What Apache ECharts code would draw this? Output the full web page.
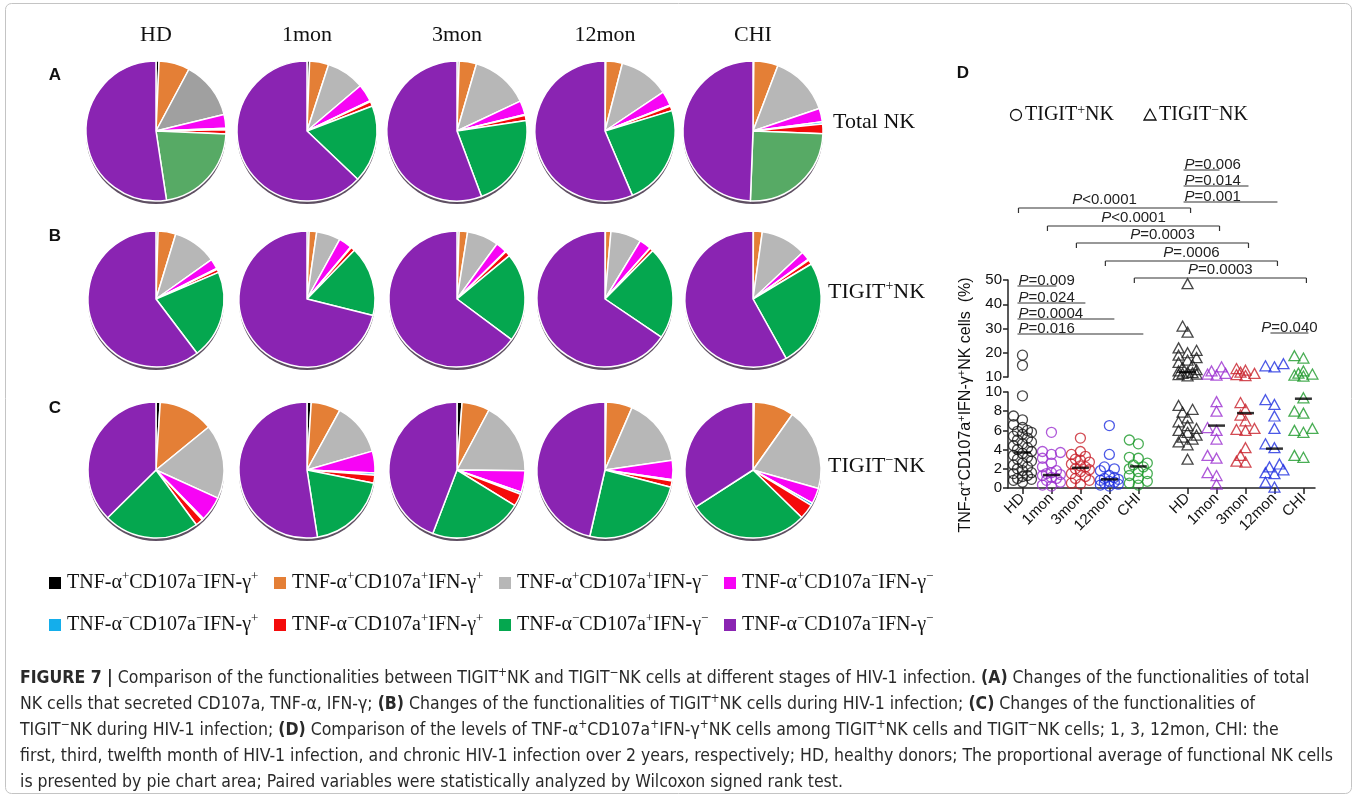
<!DOCTYPE html>
<html>
<head>
<meta charset="utf-8">
<script src="https://cdn.jsdelivr.net/npm/echarts@6/dist/echarts.min.js"></script>
<style>
html, body { margin: 0; padding: 0; background: #fff; }
#main { width: 1358px; height: 798px; }
</style>
</head>
<body>
<div id="main"></div>
<script>
// ---- data ----
var stages = ['HD', '1mon', '3mon', '12mon', 'CHI'];
var subsets = ['Total NK', 'TIGIT^+NK', 'TIGIT^-NK'];
var categories = [
    'TNF-α^+CD107a^-IFN-γ^+', 'TNF-α^+CD107a^+IFN-γ^+', 'TNF-α^+CD107a^+IFN-γ^-', 'TNF-α^+CD107a^-IFN-γ^-',
    'TNF-α^-CD107a^-IFN-γ^+', 'TNF-α^-CD107a^+IFN-γ^+', 'TNF-α^-CD107a^+IFN-γ^-', 'TNF-α^-CD107a^-IFN-γ^-'
];

// pie proportions (%), one row per stage, in category order
var totalNK = [
    [0.7, 7.1, 13.4, 3.2, 0.3, 1.0, 21.9, 52.4],
    [0.6, 4.4, 8.8, 4.1, 0.2, 1.1, 17.9, 62.9],
    [0.5, 4.0, 13.5, 3.2, 0.2, 1.2, 21.7, 55.7],
    [0.2, 3.8, 11.6, 3.4, 0.2, 1.1, 23.3, 56.4],
    [0.2, 5.6, 14.0, 3.1, 0.5, 2.2, 25.0, 49.4]
];
var tigitPlusPie = [
    [0.5, 4.2, 10.5, 2.4, 0.2, 0.8, 21.1, 60.3],
    [0.5, 1.8, 5.7, 3.1, 0.2, 1.0, 16.6, 71.1],
    [0.5, 2.0, 7.5, 2.6, 0.2, 1.2, 21.2, 64.8],
    [0.1, 1.3, 7.3, 2.8, 0.1, 0.8, 22.1, 65.5],
    [0.1, 2.1, 10.8, 2.1, 0.2, 1.1, 25.5, 58.1]
];
var tigitMinusPie = [
    [1.0, 13.1, 17.7, 5.9, 0.4, 1.8, 22.7, 37.4],
    [1.0, 7.0, 12.5, 5.2, 0.5, 1.9, 19.4, 52.4],
    [1.2, 6.6, 17.4, 5.1, 0.5, 3.0, 22.0, 44.2],
    [0.3, 6.2, 16.2, 4.6, 0.3, 1.5, 24.5, 46.4],
    [0.3, 9.5, 19.6, 3.7, 0.6, 3.6, 28.6, 34.1]
];

// panel D: TNF-α+CD107a+IFN-γ+ NK cells (%)
var plusHD = [19, 14.8, 9.6, 7.5, 7.1, 6.6, 6.3, 6.0, 5.9, 5.8, 5.6, 5.4, 5.2, 5.0, 4.8, 4.6, 4.4, 4.2, 4.0, 3.8, 3.6, 3.4, 3.2, 3.0, 2.8, 2.6, 2.4, 2.2, 2.0, 1.8, 1.6, 1.5, 1.3, 1.2, 1.0, 0.9, 0.8, 0.6];
var plus1mon = [5.8, 3.8, 3.7, 3.5, 3.1, 2.6, 2.2, 1.8, 1.6, 1.5, 1.4, 1.3, 1.1, 1.0, 0.8, 0.6, 0.3, 0.2];
var plus3mon = [5.2, 3.8, 3.5, 3.3, 3.0, 2.9, 2.7, 2.5, 2.3, 2.2, 2.0, 1.9, 1.7, 1.5, 1.2, 1.0, 0.8, 0.5, 0.4];
var plus12mon = [6.5, 3.5, 2.2, 2.0, 1.8, 1.3, 1.1, 1.0, 0.9, 0.8, 0.7, 0.6, 0.5, 0.4, 0.3, 0.2];
var plusCHI = [5.0, 4.6, 3.2, 3.1, 2.6, 2.4, 2.2, 2.0, 1.7, 1.5, 1.3, 1.0, 0.7, 0.5, 0.3];
var minusHD = [48.5, 31, 28.5, 22, 21, 20, 19, 18, 17, 16, 15, 14, 13, 12.5, 12, 11.8, 11.5, 11.2, 11, 10.5, 8.6, 8.2, 7.9, 7.3, 6.9, 6.5, 6.2, 6.0, 5.8, 5.5, 5.3, 5.1, 4.8, 4.5, 3.0];
var minus1mon = [14.2, 12.5, 11.5, 11.2, 10.8, 9.0, 8.0, 6.3, 6.0, 5.1, 3.4, 3.1, 1.6, 1.3, 0.4];
var minus3mon = [13.5, 12.8, 12, 11.5, 11, 10.6, 8.9, 8.2, 7.6, 7.0, 6.2, 6.1, 6.0, 4.2, 3.4, 2.8, 2.7];
var minus12mon = [15.5, 14.6, 14.2, 9.2, 8.7, 7.5, 6.2, 4.6, 4.2, 2.5, 2.2, 1.9, 1.6, 1.5, 0.6, 0.1];
var minusCHI = [18.8, 17.8, 12.5, 11.6, 11.2, 10.8, 10.4, 9.4, 8.0, 7.8, 6.2, 6.0, 5.8, 3.4, 3.2];
var medianPlus = [3.7, 1.35, 2.1, 0.9, 2.25];
var medianMinus = [12, 6.5, 7.8, 4.1, 9.3];

// p values
var pBetween = ['P<0.0001', 'P<0.0001', 'P=0.0003', 'P=.0006', 'P=0.0003'];
var pMinusHD = ['P=0.006', 'P=0.014', 'P=0.001'];
var pPlusHD = ['P=0.009', 'P=0.024', 'P=0.0004', 'P=0.016'];
var pMinus12vsCHI = 'P=0.040';

// ---- styling / layout ----
var SERIF = "'Liberation Serif', 'Times New Roman', serif";
var SANS = "'Liberation Sans', Arial, sans-serif";
var NARROW = "'Liberation Sans Narrow', 'DejaVu Sans Condensed', 'Liberation Sans', sans-serif";
var catColors = ['#000000', '#e47f36', '#b7b7b7', '#f704f5', '#14aeeb', '#f40b0b', '#05a74f', '#8a24b2'];
var stageColors = ['#1a1a1a', '#9b30d0', '#c8202a', '#1f2fe0', '#1d9a2a'];
var pieX = [156, 307, 457, 605, 753];
var pieY = [131, 299, 470];
var pieR = [70, 68, 68];
var xPlus = [0.5, 1.5, 2.5, 3.5, 4.5];
var xMinus = [6.2, 7.2, 8.2, 9.2, 10.2];

function markup(s) {
    return s.replace(/\*\*(.+?)\*\*/g, '{b|$1}').replace(/\^\+/g, '{s|+}').replace(/\^-/g, '{s|−}');
}

var series = [];
[totalNK, tigitPlusPie, tigitMinusPie].forEach(function (rows, r) {
    rows.forEach(function (vals, c) {
        series.push({
            type: 'pie',
            silent: true,
            center: [pieX[c], pieY[r]],
            radius: pieR[r],
            startAngle: 90,
            label: { show: false },
            labelLine: { show: false },
            itemStyle: { borderColor: '#fff', borderWidth: 1.5 },
            data: vals.map(function (v, k) {
                var col = catColors[k];
                // the scanned HD / CHI total pies use a paler green
                if (r === 0 && (c === 0 || c === 4) && k === 6) col = '#57aa65';
                if (r === 0 && c === 0 && k === 2) col = '#a0a0a0';
                return { name: categories[k], value: v, itemStyle: { color: col } };
            })
        });
    });
});

// simple beeswarm so overlapping points spread sideways a little
function swarm(values) {
    var pts = values.map(function (v, i) {
        return { i: i, py: v <= 10 ? v * 9.6 : 111 + (v - 10) * 2.43 };
    });
    pts.sort(function (a, b) { return a.py - b.py; });
    var placed = [], offs = [];
    var cands = [0, -5, 5, -9, 9];
    pts.forEach(function (p) {
        var best = 0, bestD = -1;
        for (var k = 0; k < cands.length; k++) {
            var d = Infinity;
            placed.forEach(function (q) {
                var dd = Math.hypot(q.px - cands[k], q.py - p.py);
                if (dd < d) d = dd;
            });
            if (d >= 7) { best = cands[k]; break; }
            if (d > bestD) { bestD = d; best = cands[k]; }
        }
        p.px = best;
        placed.push(p);
        offs[p.i] = best / 29;
    });
    return offs;
}

function addGroup(vals, xc, color, symbol, size) {
    var offs = swarm(vals);
    var lower = [], upper = [];
    vals.forEach(function (v, i) {
        (v > 10 ? upper : lower).push([xc + offs[i], v]);
    });
    var style = { color: 'rgba(0,0,0,0)', borderColor: color, borderWidth: 1.3 };
    series.push({ type: 'scatter', xAxisIndex: 0, yAxisIndex: 0, symbol: symbol, symbolSize: size, itemStyle: style, data: lower, silent: true });
    series.push({ type: 'scatter', xAxisIndex: 1, yAxisIndex: 1, symbol: symbol, symbolSize: size, itemStyle: style, data: upper, silent: true });
}

[plusHD, plus1mon, plus3mon, plus12mon, plusCHI].forEach(function (vals, i) {
    addGroup(vals, xPlus[i], stageColors[i], 'circle', 10);
});
[minusHD, minus1mon, minus3mon, minus12mon, minusCHI].forEach(function (vals, i) {
    addGroup(vals, xMinus[i], stageColors[i], 'triangle', [11, 10]);
});

var medLow = [], medHigh = [];
medianPlus.forEach(function (m, i) { (m > 10 ? medHigh : medLow).push([xPlus[i], m]); });
medianMinus.forEach(function (m, i) { (m > 10 ? medHigh : medLow).push([xMinus[i], m]); });
series.push({ type: 'scatter', xAxisIndex: 0, yAxisIndex: 0, symbol: 'rect', symbolSize: [17, 2.5], itemStyle: { color: '#000' }, data: medLow, z: 5, silent: true });
series.push({ type: 'scatter', xAxisIndex: 1, yAxisIndex: 1, symbol: 'rect', symbolSize: [17, 2.5], itemStyle: { color: '#000' }, data: medHigh, z: 5, silent: true });

var xAll = xPlus.concat(xMinus);
var axisLineStyle = { color: '#222', width: 1.5 };

var legendText = {
    fontFamily: SERIF, fontSize: 20, color: '#111', lineHeight: 26, width: 200,
    rich: { s: { fontFamily: SERIF, fontSize: 13, lineHeight: 13, verticalAlign: 'top', color: '#111' } }
};
var legendItems = categories.map(function (c, k) {
    return { name: c, itemStyle: { color: catColors[k] } };
});

var option = {
    backgroundColor: '#fff',
    animation: false,
    legend: [
        { data: legendItems.slice(0, 4), left: 42, top: 565, itemWidth: 14, itemHeight: 14, itemGap: 5, icon: 'rect', selectedMode: false, formatter: markup, textStyle: legendText },
        { data: legendItems.slice(4), left: 42, top: 607, itemWidth: 14, itemHeight: 14, itemGap: 5, icon: 'rect', selectedMode: false, formatter: markup, textStyle: legendText }
    ],
    grid: [
        { left: 1008, top: 392, width: 307, height: 96 },
        { left: 1008, top: 280, width: 307, height: 97 }
    ],
    xAxis: [
        {
            gridIndex: 0, type: 'value', min: 0, max: 10.6,
            splitLine: { show: false },
            axisLine: { lineStyle: axisLineStyle },
            axisTick: { show: true, customValues: xAll, length: 6, lineStyle: axisLineStyle },
            axisLabel: {
                customValues: xAll, rotate: 45, margin: 8, fontFamily: SANS, fontSize: 15, color: '#111',
                formatter: function (v) {
                    for (var i = 0; i < xAll.length; i++) if (Math.abs(xAll[i] - v) < 0.01) return stages[i % 5];
                    return '';
                }
            }
        },
        { gridIndex: 1, type: 'value', min: 0, max: 10.6, show: false }
    ],
    yAxis: [
        {
            gridIndex: 0, type: 'value', min: 0, max: 10, interval: 2,
            splitLine: { show: false },
            axisLine: { show: true, lineStyle: axisLineStyle },
            axisTick: { show: true, length: 5, lineStyle: axisLineStyle },
            axisLabel: { fontFamily: SANS, fontSize: 15, color: '#111', margin: 6 }
        },
        {
            gridIndex: 1, type: 'value', min: 10, max: 50, interval: 10,
            splitLine: { show: false },
            axisLine: { show: true, lineStyle: axisLineStyle },
            axisTick: { show: true, length: 5, lineStyle: axisLineStyle },
            axisLabel: { fontFamily: SANS, fontSize: 15, color: '#111', margin: 6 }
        }
    ],
    series: series
};

var chart = echarts.init(document.getElementById('main'));
chart.setOption(option);

// ---- annotations ----
var g = [];
function txt(x, y, text, font, size, opts) {
    opts = opts || {};
    g.push({
        type: 'text', x: x, y: y, rotation: opts.rotation || 0, z: 10,
        style: {
            text: text, fill: opts.color || '#111', fontFamily: font, fontSize: size,
            fontWeight: opts.bold ? 'bold' : 'normal', lineHeight: opts.lineHeight,
            align: opts.align || 'left', verticalAlign: opts.va || 'middle',
            rich: opts.rich
        }
    });
}
function line(x1, y1, x2, y2) {
    g.push({ type: 'line', z: 10, shape: { x1: x1, y1: y1, x2: x2, y2: y2 }, style: { stroke: '#333', lineWidth: 1.2 } });
}

// figure frame
g.push({ type: 'rect', z: 0, shape: { x: 5.5, y: 3.5, width: 1346, height: 790, r: 6 }, style: { fill: null, stroke: '#c4c4c4', lineWidth: 1 } });

// pie shadows
pieY.forEach(function (cy, r) {
    pieX.forEach(function (cx) {
        g.push({ type: 'circle', z: 0, shape: { cx: cx, cy: cy + 3, r: pieR[r] }, style: { fill: 'rgba(40,20,45,0.75)' } });
    });
});

var supSerif = { s: { fontFamily: SERIF, fontSize: 14, lineHeight: 12, verticalAlign: 'top', fill: '#111' } };
stages.forEach(function (s, i) { txt(pieX[i], 35, s, SERIF, 22, { align: 'center' }); });
['A', 'B', 'C'].forEach(function (l, i) { txt(55, [75, 236, 408][i], l, SANS, 17, { bold: true, align: 'center' }); });
txt(963, 73, 'D', SANS, 17, { bold: true, align: 'center' });
[122, 292, 466].forEach(function (y, i) {
    txt(i === 0 ? 833 : 828, y, markup(subsets[i]), SERIF, 22, { lineHeight: 26, rich: supSerif });
});

// panel D legend
g.push({ type: 'circle', z: 10, shape: { cx: 1016, cy: 115, r: 5.5 }, style: { fill: null, stroke: '#111', lineWidth: 1.3 } });
txt(1025, 115, markup('TIGIT^+NK'), SERIF, 20, { lineHeight: 24, rich: supSerif });
g.push({ type: 'polygon', z: 10, shape: { points: [[1150, 109], [1156, 120], [1144, 120]] }, style: { fill: null, stroke: '#111', lineWidth: 1.3 } });
txt(1159, 115, markup('TIGIT^-NK'), SERIF, 20, { lineHeight: 24, rich: supSerif });

// y axis title
txt(966, 405, markup('TNF-α^+CD107a^+IFN-γ^+NK cells  (%)'), SANS, 16,
    { rotation: Math.PI / 2, align: 'center', lineHeight: 20, rich: { s: { fontFamily: SANS, fontSize: 11, lineHeight: 10, verticalAlign: 'top', fill: '#111' } } });

function px(v) { return chart.convertToPixel({ xAxisIndex: 0 }, v); }
var pRich = { i: { fontFamily: SANS, fontSize: 15, fontStyle: 'italic', fill: '#222' } };
function pText(s) { return '{i|P}' + s.slice(1); }

// brackets between TIGIT+ and TIGIT- of the same stage
[208, 226, 243, 261, 278].forEach(function (y, i) {
    var a = px(xPlus[i]) - 4, b = px(xMinus[i]) + 3;
    line(a, y, b, y); line(a, y, a, y + 5); line(b, y, b, y + 5);
    txt((a + b) / 2, y - 1, pText(pBetween[i]), SANS, 15, { align: 'center', va: 'bottom', rich: pRich, color: '#222' });
});
// TIGIT- HD vs other stages
[170, 186, 202].forEach(function (y, i) {
    var a = px(xMinus[0]) - 4, b = px(xMinus[i + 1]) + 3;
    line(a, y, b, y);
    txt(a + 1, y + 2, pText(pMinusHD[i]), SANS, 15, { va: 'bottom', rich: pRich, color: '#222' });
});
// TIGIT+ HD vs other stages
[286, 303, 319, 334].forEach(function (y, i) {
    var a = px(xPlus[0]) - 5, b = px(xPlus[i + 1]) + 5;
    line(a, y, b, y);
    txt(a + 1, y + 2, pText(pPlusHD[i]), SANS, 15, { va: 'bottom', rich: pRich, color: '#222' });
});
(function () {
    var a = px(xMinus[3]) - 4, b = px(xMinus[4]) + 5, y = 333;
    line(a, y, b, y);
    txt((a + b) / 2, y + 2, pText(pMinus12vsCHI), SANS, 15, { align: 'center', va: 'bottom', rich: pRich, color: '#222' });
})();

// caption
var caption = [
    '**FIGURE 7 |** Comparison of the functionalities between TIGIT^+NK and TIGIT^-NK cells at different stages of HIV-1 infection. **(A)** Changes of the functionalities of total',
    'NK cells that secreted CD107a, TNF-α, IFN-γ; **(B)** Changes of the functionalities of TIGIT^+NK cells during HIV-1 infection; **(C)** Changes of the functionalities of',
    'TIGIT^-NK during HIV-1 infection; **(D)** Comparison of the levels of TNF-α^+CD107a^+IFN-γ^+NK cells among TIGIT^+NK cells and TIGIT^-NK cells; 1, 3, 12mon, CHI: the',
    'first, third, twelfth month of HIV-1 infection, and chronic HIV-1 infection over 2 years, respectively; HD, healthy donors; The proportional average of functional NK cells',
    'is presented by pie chart area; Paired variables were statistically analyzed by Wilcoxon signed rank test.'
];
var capRich = {
    b: { fontFamily: NARROW, fontSize: 17.5, fontWeight: 'bold', fill: '#2a2a2a' },
    s: { fontFamily: NARROW, fontSize: 12, lineHeight: 10, verticalAlign: 'top', fill: '#2a2a2a' }
};
caption.forEach(function (l, i) {
    txt(20, 678 + i * 26, markup(l), NARROW, 17.5, { lineHeight: 22, rich: capRich, color: '#2a2a2a' });
});

chart.setOption({ graphic: { elements: g } });
</script>
</body>
</html>
